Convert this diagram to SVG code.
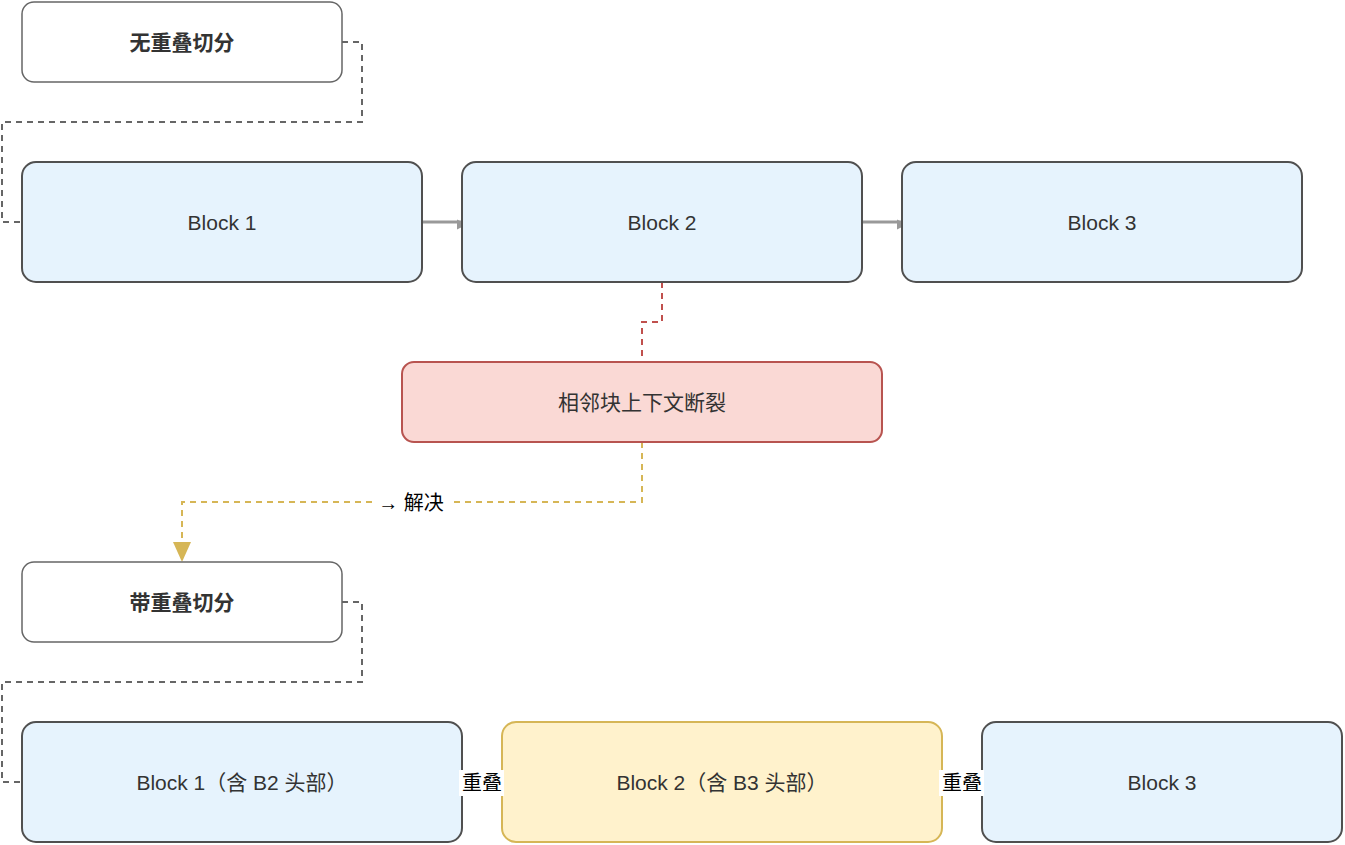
<svg xmlns="http://www.w3.org/2000/svg" width="1345" height="845" viewBox="0 0 1345 845">
<style>
text{font-family:"Liberation Sans","Noto Sans CJK SC",sans-serif;fill:#333;text-anchor:middle;dominant-baseline:central}
.title rect{fill:#fff;stroke:#666;stroke-width:1.5}
.title text{font-size:24px;font-weight:bold}
.blue rect{fill:#e6f3fd;stroke:#505050;stroke-width:2}
.node text{font-size:21px}
.dash{fill:none;stroke-dasharray:6 5;stroke-width:2}
.lbl{font-size:20px;fill:#000}
</style>
<defs>
<marker id="ag" viewBox="0 0 10 10" refX="10" refY="5" markerWidth="5" markerHeight="5" orient="auto" markerUnits="userSpaceOnUse" style="overflow:visible"><path d="M0,0L10,5L0,10z" fill="#999" transform="scale(2)"/></marker>
<marker id="ay" viewBox="0 0 20 20" refX="20" refY="10" markerWidth="20" markerHeight="20" orient="auto" markerUnits="userSpaceOnUse"><path d="M0,1L20,10L0,19z" fill="#d6b656"/></marker>
</defs>
<g id="connectors">
<path class="dash" stroke="#666" d="M342,42H362V122H2V222H22"/>
<path d="M422,222H462" stroke="#999" stroke-width="3" marker-end="url(#ag)"/>
<path d="M862,222H902" stroke="#999" stroke-width="3" marker-end="url(#ag)"/>
<path class="dash" stroke="#c0504d" d="M662,282V322H642V362"/>
<path class="dash" stroke="#d6b656" stroke-width="3" d="M642,442V502H182V562" marker-end="url(#ay)"/>
<rect x="372" y="490" width="78" height="24" fill="#fff"/>
<text class="lbl" x="411" y="503">→ 解决</text>
<path class="dash" stroke="#666" d="M342,602H362V682H2V782H22"/>
</g>
<g id="n-title1" class="title node"><rect x="22" y="2" width="320" height="80" rx="12"/><text x="182" y="42">无重叠切分</text></g>
<g id="n-b1" class="blue node"><rect x="22" y="162" width="400" height="120" rx="14"/><text x="222" y="222">Block 1</text></g>
<g id="n-b2" class="blue node"><rect x="462" y="162" width="400" height="120" rx="14"/><text x="662" y="222">Block 2</text></g>
<g id="n-b3" class="blue node"><rect x="902" y="162" width="400" height="120" rx="14"/><text x="1102" y="222">Block 3</text></g>
<g id="n-break" class="node"><rect x="402" y="362" width="480" height="80" rx="12" fill="#fad9d5" stroke="#b85450" stroke-width="2"/><text x="642" y="402">相邻块上下文断裂</text></g>
<g id="n-title2" class="title node"><rect x="22" y="562" width="320" height="80" rx="12"/><text x="182" y="602">带重叠切分</text></g>
<g id="n-ob1" class="blue node"><rect x="22" y="722" width="440" height="120" rx="14"/><text x="242" y="782">Block 1（含 B2 头部）</text></g>
<g id="n-ob2" class="node"><rect x="502" y="722" width="440" height="120" rx="14" fill="#fff2cc" stroke="#d6b656" stroke-width="2"/><text x="722" y="782">Block 2（含 B3 头部）</text></g>
<g id="n-ob3" class="blue node"><rect x="982" y="722" width="360" height="120" rx="14"/><text x="1162" y="782">Block 3</text></g>
<g id="overlap-labels">
<rect x="459" y="770" width="45" height="26" fill="#fff"/><text class="lbl" x="482" y="783">重叠</text>
<rect x="939" y="770" width="45" height="26" fill="#fff"/><text class="lbl" x="962" y="783">重叠</text>
</g>
</svg>
